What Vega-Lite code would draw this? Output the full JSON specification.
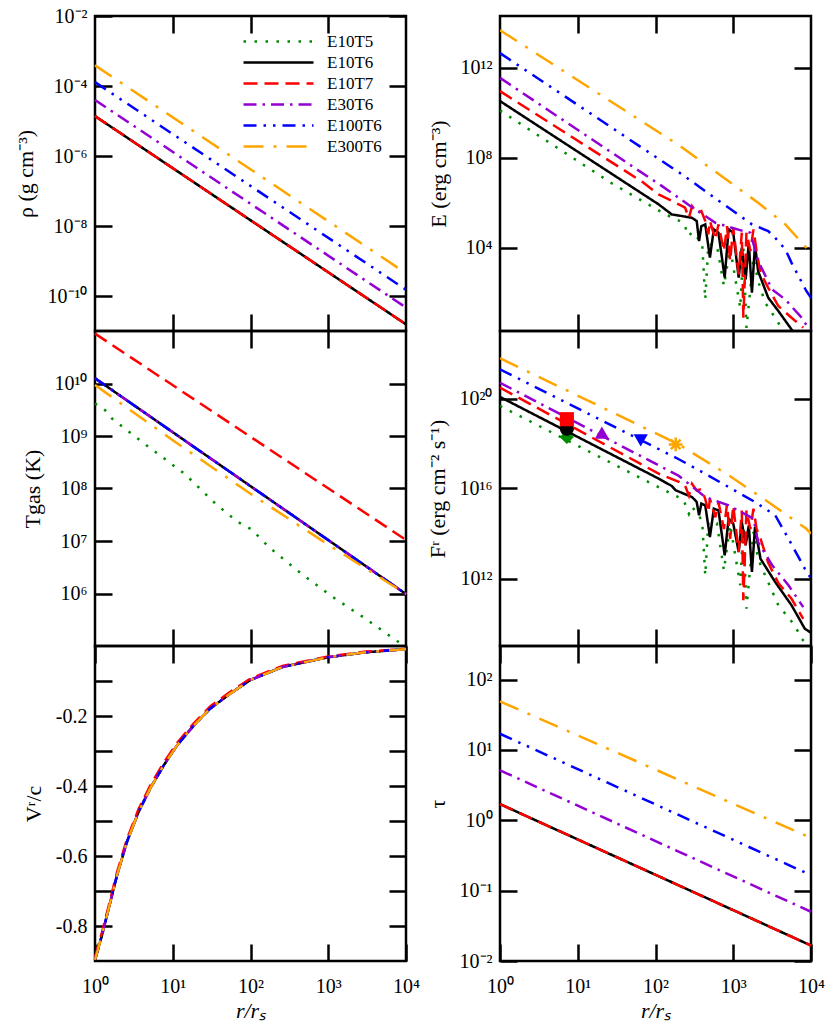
{
"$schema": "https://vega.github.io/schema/vega-lite/v6.json",
"padding": {"left": 12, "top": 4, "right": 5, "bottom": 5},
"bounds": "flush",
"columns": 2,
"spacing": {"row": 0, "column": 94},
"data": {"values": [
{"p":"rho","m":"E10T5","r":1,"v":1.38e-5},{"p":"rho","m":"E10T5","r":10000,"v":1.55e-11},
{"p":"rho","m":"E10T6","r":1,"v":1.38e-5},{"p":"rho","m":"E10T6","r":10000,"v":1.55e-11},
{"p":"rho","m":"E10T7","r":1,"v":1.38e-5},{"p":"rho","m":"E10T7","r":10000,"v":1.55e-11},
{"p":"rho","m":"E30T6","r":1,"v":3.98e-5},{"p":"rho","m":"E30T6","r":10000,"v":4.68e-11},
{"p":"rho","m":"E100T6","r":1,"v":1.288e-4},{"p":"rho","m":"E100T6","r":10000,"v":1.514e-10},
{"p":"rho","m":"E300T6","r":1,"v":3.89e-4},{"p":"rho","m":"E300T6","r":10000,"v":4.47e-10},

{"p":"E","m":"E10T5","r":1,"v":1.259e10},{"p":"E","m":"E10T5","r":27.54,"v":7.244e6},{"p":"E","m":"E10T5","r":134.9,"v":3.02e5},{"p":"E","m":"E10T5","r":229.1,"v":1.288e5},{"p":"E","m":"E10T5","r":269.2,"v":3.311e4},{"p":"E","m":"E10T5","r":295.1,"v":5.012e4},{"p":"E","m":"E10T5","r":398.1,"v":1.66e4},{"p":"E","m":"E10T5","r":436.5,"v":50.12},{"p":"E","m":"E10T5","r":478.6,"v":1.413e4},{"p":"E","m":"E10T5","r":616.6,"v":1.259e4},{"p":"E","m":"E10T5","r":758.6,"v":199.5},{"p":"E","m":"E10T5","r":912,"v":1e4},{"p":"E","m":"E10T5","r":1230,"v":21.38},{"p":"E","m":"E10T5","r":1349,"v":1e4},{"p":"E","m":"E10T5","r":1479,"v":2.754},{"p":"E","m":"E10T5","r":1820,"v":3631},{"p":"E","m":"E10T5","r":2089,"v":331.1},{"p":"E","m":"E10T5","r":2570,"v":36.31},{"p":"E","m":"E10T5","r":3467,"v":7.762},{"p":"E","m":"E10T5","r":4169,"v":2.754},{"p":"E","m":"E10T5","r":5623,"v":1},
{"p":"E","m":"E10T6","r":1,"v":3.311e10},{"p":"E","m":"E10T6","r":109.6,"v":8.511e5},{"p":"E","m":"E10T6","r":162.2,"v":3.02e5},{"p":"E","m":"E10T6","r":218.8,"v":2.57e5},{"p":"E","m":"E10T6","r":295.1,"v":2.138e5},{"p":"E","m":"E10T6","r":338.8,"v":1.549e5},{"p":"E","m":"E10T6","r":363.1,"v":1.995e4},{"p":"E","m":"E10T6","r":389,"v":9.12e4},{"p":"E","m":"E10T6","r":436.5,"v":1.096e5},{"p":"E","m":"E10T6","r":501.2,"v":3631},{"p":"E","m":"E10T6","r":562.3,"v":6.607e4},{"p":"E","m":"E10T6","r":645.7,"v":4.677e4},{"p":"E","m":"E10T6","r":776.2,"v":467.7},{"p":"E","m":"E10T6","r":871,"v":6.607e4},{"p":"E","m":"E10T6","r":1000,"v":4.677e4},{"p":"E","m":"E10T6","r":1175,"v":467.7},{"p":"E","m":"E10T6","r":1288,"v":1e4},{"p":"E","m":"E10T6","r":1445,"v":398.1},{"p":"E","m":"E10T6","r":1585,"v":1.66e4},{"p":"E","m":"E10T6","r":1738,"v":100},{"p":"E","m":"E10T6","r":1905,"v":1.413e4},{"p":"E","m":"E10T6","r":2089,"v":912},{"p":"E","m":"E10T6","r":2818,"v":60.26},{"p":"E","m":"E10T6","r":3802,"v":15.49},{"p":"E","m":"E10T6","r":5623,"v":2.344},{"p":"E","m":"E10T6","r":6918,"v":1},
{"p":"E","m":"E10T7","r":1,"v":9.12e10},{"p":"E","m":"E10T7","r":67.61,"v":8.511e6},{"p":"E","m":"E10T7","r":109.6,"v":2.344e6},{"p":"E","m":"E10T7","r":199.5,"v":8.511e5},{"p":"E","m":"E10T7","r":239.9,"v":6.026e5},{"p":"E","m":"E10T7","r":269.2,"v":2.138e5},{"p":"E","m":"E10T7","r":295.1,"v":7.079e5},{"p":"E","m":"E10T7","r":338.8,"v":3.631e5},{"p":"E","m":"E10T7","r":389,"v":4.266e5},{"p":"E","m":"E10T7","r":436.5,"v":1.549e5},{"p":"E","m":"E10T7","r":478.6,"v":3.981e4},{"p":"E","m":"E10T7","r":501.2,"v":1.549e5},{"p":"E","m":"E10T7","r":588.8,"v":2.344e4},{"p":"E","m":"E10T7","r":645.7,"v":1.096e5},{"p":"E","m":"E10T7","r":758.6,"v":7079},{"p":"E","m":"E10T7","r":831.8,"v":9.12e4},{"p":"E","m":"E10T7","r":912,"v":2570},{"p":"E","m":"E10T7","r":1000,"v":7.762e4},{"p":"E","m":"E10T7","r":1175,"v":660.7},{"p":"E","m":"E10T7","r":1288,"v":4.677e4},{"p":"E","m":"E10T7","r":1349,"v":7.762},{"p":"E","m":"E10T7","r":1479,"v":4.677e4},{"p":"E","m":"E10T7","r":1660,"v":7079},{"p":"E","m":"E10T7","r":1820,"v":6.607e4},{"p":"E","m":"E10T7","r":1995,"v":7079},{"p":"E","m":"E10T7","r":2239,"v":776.2},{"p":"E","m":"E10T7","r":2818,"v":166},{"p":"E","m":"E10T7","r":3802,"v":25.7},{"p":"E","m":"E10T7","r":5623,"v":7.762},{"p":"E","m":"E10T7","r":7943,"v":2.818},
{"p":"E","m":"E30T6","r":1,"v":3.548e11},{"p":"E","m":"E30T6","r":100,"v":8.511e6},{"p":"E","m":"E30T6","r":120.2,"v":5.623e6},{"p":"E","m":"E30T6","r":281.8,"v":7.079e5},{"p":"E","m":"E30T6","r":588.8,"v":1.288e5},{"p":"E","m":"E30T6","r":1349,"v":5.495e4},{"p":"E","m":"E30T6","r":1660,"v":4.677e4},{"p":"E","m":"E30T6","r":2089,"v":2570},{"p":"E","m":"E30T6","r":3162,"v":141.3},{"p":"E","m":"E30T6","r":4677,"v":50.12},{"p":"E","m":"E30T6","r":7586,"v":7.762},{"p":"E","m":"E30T6","r":8318,"v":4.677},{"p":"E","m":"E30T6","r":10000,"v":1.995},
{"p":"E","m":"E100T6","r":1,"v":4.467e12},{"p":"E","m":"E100T6","r":218.8,"v":1.82e7},{"p":"E","m":"E100T6","r":1738,"v":1.096e5},{"p":"E","m":"E100T6","r":2818,"v":5.495e4},{"p":"E","m":"E100T6","r":3467,"v":2.754e4},{"p":"E","m":"E100T6","r":4677,"v":8511},{"p":"E","m":"E100T6","r":5623,"v":2138},{"p":"E","m":"E100T6","r":8710,"v":120.2},{"p":"E","m":"E100T6","r":10000,"v":60},
{"p":"E","m":"E300T6","r":1,"v":4.677e13},{"p":"E","m":"E300T6","r":199.5,"v":3.631e8},{"p":"E","m":"E300T6","r":616.6,"v":2.138e7},{"p":"E","m":"E300T6","r":2089,"v":1e6},{"p":"E","m":"E300T6","r":4677,"v":1.096e5},{"p":"E","m":"E300T6","r":8710,"v":1e4},{"p":"E","m":"E300T6","r":10000,"v":5623},

{"p":"T","m":"E10T5","r":1,"v":4.169e9},{"p":"T","m":"E10T5","r":1.349,"v":3.09e9},{"p":"T","m":"E10T5","r":1.66,"v":2.138e9},{"p":"T","m":"E10T5","r":4.266,"v":7.244e8},{"p":"T","m":"E10T5","r":14.45,"v":1.862e8},{"p":"T","m":"E10T5","r":35.48,"v":5.129e7},{"p":"T","m":"E10T5","r":67.61,"v":2.344e7},{"p":"T","m":"E10T5","r":100,"v":1.698e7},{"p":"T","m":"E10T5","r":120.2,"v":1.318e7},{"p":"T","m":"E10T5","r":173.8,"v":7.586e6},{"p":"T","m":"E10T5","r":398.1,"v":2.754e6},{"p":"T","m":"E10T5","r":1072,"v":9.12e5},{"p":"T","m":"E10T5","r":3020,"v":3.311e5},{"p":"T","m":"E10T5","r":7586,"v":1.259e5},{"p":"T","m":"E10T5","r":9550,"v":1.0e5},
{"p":"T","m":"E10T6","r":1,"v":1.259e10},{"p":"T","m":"E10T6","r":10000,"v":9.772e5},
{"p":"T","m":"E10T7","r":1,"v":8.913e10},{"p":"T","m":"E10T7","r":10000,"v":1.047e7},
{"p":"T","m":"E30T6","r":1,"v":1.259e10},{"p":"T","m":"E30T6","r":10000,"v":9.772e5},
{"p":"T","m":"E100T6","r":1,"v":1.259e10},{"p":"T","m":"E100T6","r":10000,"v":9.772e5},
{"p":"T","m":"E300T6","r":1,"v":9.333e9},{"p":"T","m":"E300T6","r":10,"v":8.318e8},{"p":"T","m":"E300T6","r":100,"v":7.943e7},{"p":"T","m":"E300T6","r":1000,"v":8.511e6},{"p":"T","m":"E300T6","r":10000,"v":9.772e5},

{"p":"F","m":"E10T5","r":1,"v":4.677e19},{"p":"F","m":"E10T5","r":27.54,"v":1.318e17},{"p":"F","m":"E10T5","r":134.9,"v":7.943e15},{"p":"F","m":"E10T5","r":229.1,"v":3.162e15},{"p":"F","m":"E10T5","r":269.2,"v":7.413e14},{"p":"F","m":"E10T5","r":295.1,"v":1.585e15},{"p":"F","m":"E10T5","r":398.1,"v":3.715e14},{"p":"F","m":"E10T5","r":436.5,"v":1.38e12},{"p":"F","m":"E10T5","r":478.6,"v":3.162e14},{"p":"F","m":"E10T5","r":616.6,"v":2.818e14},{"p":"F","m":"E10T5","r":758.6,"v":2.291e12},{"p":"F","m":"E10T5","r":912,"v":2.512e14},{"p":"F","m":"E10T5","r":1230,"v":5.012e11},{"p":"F","m":"E10T5","r":1349,"v":2.239e14},{"p":"F","m":"E10T5","r":1479,"v":4.571e10},{"p":"F","m":"E10T5","r":1820,"v":1.175e14},{"p":"F","m":"E10T5","r":2089,"v":7.413e12},{"p":"F","m":"E10T5","r":2570,"v":1.38e12},{"p":"F","m":"E10T5","r":3802,"v":6.457e10},{"p":"F","m":"E10T5","r":6166,"v":8.318e9},{"p":"F","m":"E10T5","r":7586,"v":2.089e9},{"p":"F","m":"E10T5","r":10000,"v":7.943e8},
{"p":"F","m":"E10T6","r":1,"v":1.175e20},{"p":"F","m":"E10T6","r":109.6,"v":2.754e16},{"p":"F","m":"E10T6","r":162.2,"v":1.288e16},{"p":"F","m":"E10T6","r":182,"v":8.318e15},{"p":"F","m":"E10T6","r":295.1,"v":4.169e15},{"p":"F","m":"E10T6","r":338.8,"v":2.512e15},{"p":"F","m":"E10T6","r":363.1,"v":6.457e14},{"p":"F","m":"E10T6","r":389,"v":2.138e15},{"p":"F","m":"E10T6","r":436.5,"v":1.778e15},{"p":"F","m":"E10T6","r":501.2,"v":6.918e13},{"p":"F","m":"E10T6","r":562.3,"v":1.259e15},{"p":"F","m":"E10T6","r":645.7,"v":1.072e15},{"p":"F","m":"E10T6","r":776.2,"v":1.072e13},{"p":"F","m":"E10T6","r":871,"v":4.571e14},{"p":"F","m":"E10T6","r":1000,"v":2.754e14},{"p":"F","m":"E10T6","r":1175,"v":1.514e13},{"p":"F","m":"E10T6","r":1288,"v":3.236e14},{"p":"F","m":"E10T6","r":1445,"v":3.02e13},{"p":"F","m":"E10T6","r":1585,"v":2.291e14},{"p":"F","m":"E10T6","r":1738,"v":1.95e12},{"p":"F","m":"E10T6","r":1905,"v":1.95e14},{"p":"F","m":"E10T6","r":2239,"v":7.586e12},{"p":"F","m":"E10T6","r":3467,"v":6.918e11},{"p":"F","m":"E10T6","r":5623,"v":6.457e10},{"p":"F","m":"E10T6","r":8318,"v":5.888e9},{"p":"F","m":"E10T6","r":10000,"v":3.89e9},
{"p":"F","m":"E10T7","r":1,"v":3.02e20},{"p":"F","m":"E10T7","r":109.6,"v":4.571e16},{"p":"F","m":"E10T7","r":199.5,"v":1.995e16},{"p":"F","m":"E10T7","r":239.9,"v":1.349e16},{"p":"F","m":"E10T7","r":269.2,"v":4.786e15},{"p":"F","m":"E10T7","r":295.1,"v":1.585e16},{"p":"F","m":"E10T7","r":338.8,"v":8.128e15},{"p":"F","m":"E10T7","r":389,"v":9.55e15},{"p":"F","m":"E10T7","r":436.5,"v":3.467e15},{"p":"F","m":"E10T7","r":478.6,"v":8.913e14},{"p":"F","m":"E10T7","r":501.2,"v":3.467e15},{"p":"F","m":"E10T7","r":588.8,"v":5.248e14},{"p":"F","m":"E10T7","r":645.7,"v":2.455e15},{"p":"F","m":"E10T7","r":758.6,"v":1.585e14},{"p":"F","m":"E10T7","r":831.8,"v":2.042e15},{"p":"F","m":"E10T7","r":912,"v":5.754e13},{"p":"F","m":"E10T7","r":1000,"v":1.738e15},{"p":"F","m":"E10T7","r":1175,"v":1.479e13},{"p":"F","m":"E10T7","r":1288,"v":1.047e15},{"p":"F","m":"E10T7","r":1349,"v":1.072e11},{"p":"F","m":"E10T7","r":1479,"v":1.047e15},{"p":"F","m":"E10T7","r":1660,"v":1.585e14},{"p":"F","m":"E10T7","r":1820,"v":1.259e15},{"p":"F","m":"E10T7","r":1995,"v":1.585e14},{"p":"F","m":"E10T7","r":2239,"v":5.888e13},{"p":"F","m":"E10T7","r":2818,"v":5.012e12},{"p":"F","m":"E10T7","r":3802,"v":6.31e11},{"p":"F","m":"E10T7","r":5623,"v":1.259e11},{"p":"F","m":"E10T7","r":7943,"v":1.622e10},
{"p":"F","m":"E30T6","r":1,"v":5.012e20},{"p":"F","m":"E30T6","r":199.5,"v":3.631e16},{"p":"F","m":"E30T6","r":436.5,"v":4.169e15},{"p":"F","m":"E30T6","r":871,"v":1.778e15},{"p":"F","m":"E30T6","r":1820,"v":4.571e14},{"p":"F","m":"E30T6","r":2089,"v":4.169e13},{"p":"F","m":"E30T6","r":3162,"v":3.89e12},{"p":"F","m":"E30T6","r":5129,"v":5.012e11},{"p":"F","m":"E30T6","r":7943,"v":5.37e10},
{"p":"F","m":"E100T6","r":1,"v":1.995e21},{"p":"F","m":"E100T6","r":199.5,"v":1.995e17},{"p":"F","m":"E100T6","r":398.1,"v":5.37e16},{"p":"F","m":"E100T6","r":1905,"v":2.512e15},{"p":"F","m":"E100T6","r":3467,"v":6.457e14},{"p":"F","m":"E100T6","r":5129,"v":5.888e13},{"p":"F","m":"E100T6","r":8318,"v":2.754e12},{"p":"F","m":"E100T6","r":10000,"v":1e12},
{"p":"F","m":"E300T6","r":1,"v":6.166e21},{"p":"F","m":"E300T6","r":199.5,"v":9.12e17},{"p":"F","m":"E300T6","r":871,"v":3.89e16},{"p":"F","m":"E300T6","r":2818,"v":2.512e15},{"p":"F","m":"E300T6","r":8710,"v":1.622e14},{"p":"F","m":"E300T6","r":10000,"v":1e14},

{"p":"M","m":"E10T5","r":7.244,"v":1.95e18},{"p":"M","m":"E10T6","r":7.244,"v":4.571e18},{"p":"M","m":"E10T7","r":7.244,"v":1.202e19},{"p":"M","m":"E30T6","r":20.42,"v":3.02e18},{"p":"M","m":"E100T6","r":64.57,"v":1.38e18},{"p":"M","m":"E300T6","r":182,"v":9.12e17},

{"p":"V","m":"E10T5","r":1,"v":-0.897},{"p":"V","m":"E10T5","r":1.23,"v":-0.826},{"p":"V","m":"E10T5","r":1.5,"v":-0.75},{"p":"V","m":"E10T5","r":1.919,"v":-0.655},{"p":"V","m":"E10T5","r":2.57,"v":-0.56},{"p":"V","m":"E10T5","r":3.631,"v":-0.474},{"p":"V","m":"E10T5","r":5.129,"v":-0.407},{"p":"V","m":"E10T5","r":7.656,"v":-0.341},{"p":"V","m":"E10T5","r":11.35,"v":-0.284},{"p":"V","m":"E10T5","r":18.62,"v":-0.227},{"p":"V","m":"E10T5","r":30.2,"v":-0.179},{"p":"V","m":"E10T5","r":54.95,"v":-0.136},{"p":"V","m":"E10T5","r":100,"v":-0.097},{"p":"V","m":"E10T5","r":257,"v":-0.06},{"p":"V","m":"E10T5","r":1000,"v":-0.032},{"p":"V","m":"E10T5","r":3020,"v":-0.018},{"p":"V","m":"E10T5","r":10000,"v":-0.009},
{"p":"V","m":"E10T6","r":1,"v":-0.897},{"p":"V","m":"E10T6","r":1.23,"v":-0.826},{"p":"V","m":"E10T6","r":1.5,"v":-0.75},{"p":"V","m":"E10T6","r":1.919,"v":-0.655},{"p":"V","m":"E10T6","r":2.57,"v":-0.56},{"p":"V","m":"E10T6","r":3.631,"v":-0.474},{"p":"V","m":"E10T6","r":5.129,"v":-0.407},{"p":"V","m":"E10T6","r":7.656,"v":-0.341},{"p":"V","m":"E10T6","r":11.35,"v":-0.284},{"p":"V","m":"E10T6","r":18.62,"v":-0.227},{"p":"V","m":"E10T6","r":30.2,"v":-0.179},{"p":"V","m":"E10T6","r":54.95,"v":-0.136},{"p":"V","m":"E10T6","r":100,"v":-0.097},{"p":"V","m":"E10T6","r":257,"v":-0.06},{"p":"V","m":"E10T6","r":1000,"v":-0.032},{"p":"V","m":"E10T6","r":3020,"v":-0.018},{"p":"V","m":"E10T6","r":10000,"v":-0.009},
{"p":"V","m":"E10T7","r":1,"v":-0.889},{"p":"V","m":"E10T7","r":1.23,"v":-0.818},{"p":"V","m":"E10T7","r":1.5,"v":-0.742},{"p":"V","m":"E10T7","r":1.919,"v":-0.647},{"p":"V","m":"E10T7","r":2.57,"v":-0.552},{"p":"V","m":"E10T7","r":3.631,"v":-0.466},{"p":"V","m":"E10T7","r":5.129,"v":-0.399},{"p":"V","m":"E10T7","r":7.656,"v":-0.333},{"p":"V","m":"E10T7","r":11.35,"v":-0.277},{"p":"V","m":"E10T7","r":18.62,"v":-0.221},{"p":"V","m":"E10T7","r":30.2,"v":-0.173},{"p":"V","m":"E10T7","r":54.95,"v":-0.131},{"p":"V","m":"E10T7","r":100,"v":-0.093},{"p":"V","m":"E10T7","r":257,"v":-0.057},{"p":"V","m":"E10T7","r":1000,"v":-0.03},{"p":"V","m":"E10T7","r":3020,"v":-0.016},{"p":"V","m":"E10T7","r":10000,"v":-0.008},
{"p":"V","m":"E30T6","r":1,"v":-0.897},{"p":"V","m":"E30T6","r":1.23,"v":-0.826},{"p":"V","m":"E30T6","r":1.5,"v":-0.75},{"p":"V","m":"E30T6","r":1.919,"v":-0.655},{"p":"V","m":"E30T6","r":2.57,"v":-0.56},{"p":"V","m":"E30T6","r":3.631,"v":-0.474},{"p":"V","m":"E30T6","r":5.129,"v":-0.407},{"p":"V","m":"E30T6","r":7.656,"v":-0.341},{"p":"V","m":"E30T6","r":11.35,"v":-0.284},{"p":"V","m":"E30T6","r":18.62,"v":-0.227},{"p":"V","m":"E30T6","r":30.2,"v":-0.179},{"p":"V","m":"E30T6","r":54.95,"v":-0.136},{"p":"V","m":"E30T6","r":100,"v":-0.097},{"p":"V","m":"E30T6","r":257,"v":-0.06},{"p":"V","m":"E30T6","r":1000,"v":-0.032},{"p":"V","m":"E30T6","r":3020,"v":-0.018},{"p":"V","m":"E30T6","r":10000,"v":-0.009},
{"p":"V","m":"E100T6","r":1,"v":-0.897},{"p":"V","m":"E100T6","r":1.23,"v":-0.826},{"p":"V","m":"E100T6","r":1.5,"v":-0.75},{"p":"V","m":"E100T6","r":1.919,"v":-0.655},{"p":"V","m":"E100T6","r":2.57,"v":-0.56},{"p":"V","m":"E100T6","r":3.631,"v":-0.474},{"p":"V","m":"E100T6","r":5.129,"v":-0.407},{"p":"V","m":"E100T6","r":7.656,"v":-0.341},{"p":"V","m":"E100T6","r":11.35,"v":-0.284},{"p":"V","m":"E100T6","r":18.62,"v":-0.227},{"p":"V","m":"E100T6","r":30.2,"v":-0.179},{"p":"V","m":"E100T6","r":54.95,"v":-0.136},{"p":"V","m":"E100T6","r":100,"v":-0.097},{"p":"V","m":"E100T6","r":257,"v":-0.06},{"p":"V","m":"E100T6","r":1000,"v":-0.032},{"p":"V","m":"E100T6","r":3020,"v":-0.018},{"p":"V","m":"E100T6","r":10000,"v":-0.009},
{"p":"V","m":"E300T6","r":1,"v":-0.897},{"p":"V","m":"E300T6","r":1.23,"v":-0.826},{"p":"V","m":"E300T6","r":1.5,"v":-0.75},{"p":"V","m":"E300T6","r":1.919,"v":-0.655},{"p":"V","m":"E300T6","r":2.57,"v":-0.56},{"p":"V","m":"E300T6","r":3.631,"v":-0.474},{"p":"V","m":"E300T6","r":5.129,"v":-0.407},{"p":"V","m":"E300T6","r":7.656,"v":-0.341},{"p":"V","m":"E300T6","r":11.35,"v":-0.284},{"p":"V","m":"E300T6","r":18.62,"v":-0.227},{"p":"V","m":"E300T6","r":30.2,"v":-0.179},{"p":"V","m":"E300T6","r":54.95,"v":-0.136},{"p":"V","m":"E300T6","r":100,"v":-0.097},{"p":"V","m":"E300T6","r":257,"v":-0.06},{"p":"V","m":"E300T6","r":1000,"v":-0.032},{"p":"V","m":"E300T6","r":3020,"v":-0.018},{"p":"V","m":"E300T6","r":10000,"v":-0.009},

{"p":"tau","m":"E10T5","r":1,"v":1.698},{"p":"tau","m":"E10T5","r":10000,"v":0.0166},
{"p":"tau","m":"E10T6","r":1,"v":1.698},{"p":"tau","m":"E10T6","r":10000,"v":0.0166},
{"p":"tau","m":"E10T7","r":1,"v":1.698},{"p":"tau","m":"E10T7","r":10000,"v":0.0166},
{"p":"tau","m":"E30T6","r":1,"v":5.129},{"p":"tau","m":"E30T6","r":10000,"v":0.0501},
{"p":"tau","m":"E100T6","r":1,"v":16.98},{"p":"tau","m":"E100T6","r":10000,"v":0.166},
{"p":"tau","m":"E300T6","r":1,"v":48.98},{"p":"tau","m":"E300T6","r":10000,"v":0.5623}
]},
"concat": [
{
 "width": 311, "height": 315,
 "transform": [{"filter": "datum.p=='rho'"}],
 "mark": {"type": "line", "strokeWidth": 2.5},
 "encoding": {
  "x": {"field": "r", "type": "quantitative", "scale": {"type": "log", "domain": [1, 10000], "nice": false}, "axis": {"orient": "bottom", "values": [10, 100, 1000], "labels": false, "title": null}},
  "y": {"field": "v", "type": "quantitative", "scale": {"type": "log", "domain": [1e-11, 0.01], "nice": false}, "axis": {"orient": "left", "values": [1e-10, 1e-8, 1e-6, 1e-4, 1e-2], "title": "ρ (g cm⁻³)", "labelExpr": "'10' + (round(log(datum.value)/LN10) < 0 ? '⁻' : '') + (abs(round(log(datum.value)/LN10)) >= 10 ? substring('⁰¹²³⁴⁵⁶⁷⁸⁹', floor(abs(round(log(datum.value)/LN10))/10), floor(abs(round(log(datum.value)/LN10))/10)+1) : '') + substring('⁰¹²³⁴⁵⁶⁷⁸⁹', abs(round(log(datum.value)/LN10))%10, abs(round(log(datum.value)/LN10))%10+1)"}},
  "color": {"field": "m", "type": "nominal", "scale": {"domain": ["E10T5","E10T6","E10T7","E30T6","E100T6","E300T6"], "range": ["#008B00","#000000","#FF0000","#9400D3","#0000FF","#FFA500"]},
    "legend": {"orient": "none", "legendX": 172, "legendY": 14, "title": null, "symbolType": "M-3.5,0H3.5", "symbolSize": 400, "symbolStrokeWidth": 2.5, "labelFont": "Liberation Serif", "labelFontSize": 17, "labelColor": "black", "labelOffset": 37, "rowPadding": 1, "padding": 0, "labelLimit": 200}},
  "strokeDash": {"field": "m", "type": "nominal", "scale": {"domain": ["E10T5","E10T6","E10T7","E30T6","E100T6","E300T6"], "range": [[2.5,8.5],[1,0],[14,7],[13,6,2.5,6],[13,7,2.5,7,2.5,7],[20,10,3,10]]},
    "legend": {"orient": "none", "legendX": 172, "legendY": 14, "title": null, "symbolType": "M-3.5,0H3.5", "symbolSize": 400, "symbolStrokeWidth": 2.5, "labelFont": "Liberation Serif", "labelFontSize": 17, "labelColor": "black", "labelOffset": 37, "rowPadding": 1, "padding": 0, "labelLimit": 200}}
 }
},
{
 "width": 311, "height": 315,
 "transform": [{"filter": "datum.p=='E'"}],
 "mark": {"type": "line", "strokeWidth": 2.5, "clip": true},
 "encoding": {
  "x": {"field": "r", "type": "quantitative", "scale": {"type": "log", "domain": [1, 10000], "nice": false}, "axis": {"orient": "bottom", "values": [10, 100, 1000], "labels": false, "title": null}},
  "y": {"field": "v", "type": "quantitative", "scale": {"type": "log", "domain": [2, 2e14], "nice": false}, "axis": {"orient": "left", "values": [1e4, 1e8, 1e12], "title": "E (erg cm⁻³)", "labelExpr": "'10' + (round(log(datum.value)/LN10) < 0 ? '⁻' : '') + (abs(round(log(datum.value)/LN10)) >= 10 ? substring('⁰¹²³⁴⁵⁶⁷⁸⁹', floor(abs(round(log(datum.value)/LN10))/10), floor(abs(round(log(datum.value)/LN10))/10)+1) : '') + substring('⁰¹²³⁴⁵⁶⁷⁸⁹', abs(round(log(datum.value)/LN10))%10, abs(round(log(datum.value)/LN10))%10+1)"}},
  "color": {"field": "m", "type": "nominal", "legend": null},
  "strokeDash": {"field": "m", "type": "nominal", "legend": null}
 }
},
{
 "width": 311, "height": 315,
 "transform": [{"filter": "datum.p=='T'"}],
 "mark": {"type": "line", "strokeWidth": 2.5},
 "encoding": {
  "x": {"field": "r", "type": "quantitative", "scale": {"type": "log", "domain": [1, 10000], "nice": false}, "axis": {"orient": "bottom", "values": [10, 100, 1000], "labels": false, "title": null}},
  "y": {"field": "v", "type": "quantitative", "scale": {"type": "log", "domain": [1e5, 1e11], "nice": false}, "axis": {"orient": "left", "values": [1e6, 1e7, 1e8, 1e9, 1e10], "title": "Tgas (K)", "labelExpr": "'10' + (round(log(datum.value)/LN10) < 0 ? '⁻' : '') + (abs(round(log(datum.value)/LN10)) >= 10 ? substring('⁰¹²³⁴⁵⁶⁷⁸⁹', floor(abs(round(log(datum.value)/LN10))/10), floor(abs(round(log(datum.value)/LN10))/10)+1) : '') + substring('⁰¹²³⁴⁵⁶⁷⁸⁹', abs(round(log(datum.value)/LN10))%10, abs(round(log(datum.value)/LN10))%10+1)"}},
  "color": {"field": "m", "type": "nominal", "legend": null},
  "strokeDash": {"field": "m", "type": "nominal", "legend": null}
 }
},
{
 "width": 311, "height": 315,
 "transform": [{"filter": "datum.p=='F' || datum.p=='M'"}],
 "layer": [
  {"mark": {"type": "line", "strokeWidth": 2.5, "clip": true},
   "transform": [{"filter": "datum.p=='F'"}],
   "encoding": {
    "x": {"field": "r", "type": "quantitative", "scale": {"type": "log", "domain": [1, 10000], "nice": false}, "axis": {"orient": "bottom", "values": [10, 100, 1000], "labels": false, "title": null}},
    "y": {"field": "v", "type": "quantitative", "scale": {"type": "log", "domain": [1e9, 1e23], "nice": false}, "axis": {"orient": "left", "values": [1e12, 1e16, 1e20], "title": "Fʳ (erg cm⁻² s⁻¹)", "labelExpr": "'10' + (round(log(datum.value)/LN10) < 0 ? '⁻' : '') + (abs(round(log(datum.value)/LN10)) >= 10 ? substring('⁰¹²³⁴⁵⁶⁷⁸⁹', floor(abs(round(log(datum.value)/LN10))/10), floor(abs(round(log(datum.value)/LN10))/10)+1) : '') + substring('⁰¹²³⁴⁵⁶⁷⁸⁹', abs(round(log(datum.value)/LN10))%10, abs(round(log(datum.value)/LN10))%10+1)"}},
    "color": {"field": "m", "type": "nominal", "legend": null},
    "strokeDash": {"field": "m", "type": "nominal", "legend": null}
   }},
  {"mark": {"type": "point", "filled": true, "size": 200, "opacity": 1},
   "transform": [{"filter": "datum.p=='M' && datum.m!='E300T6'"}],
   "encoding": {
    "x": {"field": "r", "type": "quantitative"},
    "y": {"field": "v", "type": "quantitative"},
    "color": {"field": "m", "type": "nominal", "legend": null},
    "shape": {"field": "m", "type": "nominal", "legend": null, "scale": {"domain": ["E10T5","E10T6","E10T7","E30T6","E100T6"], "range": ["diamond","circle","square","triangle-up","triangle-down"]}}
   }},
  {"mark": {"type": "point", "filled": false, "size": 190, "opacity": 1, "strokeWidth": 2.5, "shape": "M0,-1V1M-1,0H1M-0.7,-0.7L0.7,0.7M-0.7,0.7L0.7,-0.7"},
   "transform": [{"filter": "datum.p=='M' && datum.m=='E300T6'"}],
   "encoding": {
    "x": {"field": "r", "type": "quantitative"},
    "y": {"field": "v", "type": "quantitative"},
    "color": {"field": "m", "type": "nominal", "legend": null}
   }}
 ]
},
{
 "width": 311, "height": 315,
 "transform": [{"filter": "datum.p=='V'"}],
 "mark": {"type": "line", "strokeWidth": 2.5},
 "encoding": {
  "x": {"field": "r", "type": "quantitative", "scale": {"type": "log", "domain": [1, 10000], "nice": false}, "axis": {"orient": "bottom", "values": [1, 10, 100, 1000, 10000], "title": "r/rₛ", "titleFontStyle": "italic", "labelExpr": "'10' + substring('⁰¹²³⁴⁵⁶⁷⁸⁹', round(log(datum.value)/LN10), round(log(datum.value)/LN10)+1)"}},
  "y": {"field": "v", "type": "quantitative", "scale": {"type": "linear", "domain": [-0.9, 0], "nice": false, "zero": false}, "axis": {"orient": "left", "values": [-0.8, -0.7, -0.6, -0.5, -0.4, -0.3, -0.2, -0.1], "title": "Vʳ/c", "labelExpr": "datum.value == -0.2 ? '-0.2' : datum.value == -0.4 ? '-0.4' : datum.value == -0.6 ? '-0.6' : datum.value == -0.8 ? '-0.8' : ''"}},
  "color": {"field": "m", "type": "nominal", "legend": null},
  "strokeDash": {"field": "m", "type": "nominal", "legend": null}
 }
},
{
 "width": 311, "height": 315,
 "transform": [{"filter": "datum.p=='tau'"}],
 "mark": {"type": "line", "strokeWidth": 2.5},
 "encoding": {
  "x": {"field": "r", "type": "quantitative", "scale": {"type": "log", "domain": [1, 10000], "nice": false}, "axis": {"orient": "bottom", "values": [1, 10, 100, 1000, 10000], "title": "r/rₛ", "titleFontStyle": "italic", "labelExpr": "'10' + substring('⁰¹²³⁴⁵⁶⁷⁸⁹', round(log(datum.value)/LN10), round(log(datum.value)/LN10)+1)"}},
  "y": {"field": "v", "type": "quantitative", "scale": {"type": "log", "domain": [0.01, 300], "nice": false}, "axis": {"orient": "left", "values": [0.01, 0.1, 1, 10, 100], "title": "τ", "labelExpr": "'10' + (round(log(datum.value)/LN10) < 0 ? '⁻' : '') + substring('⁰¹²³⁴⁵⁶⁷⁸⁹', abs(round(log(datum.value)/LN10)), abs(round(log(datum.value)/LN10))+1)"}},
  "color": {"field": "m", "type": "nominal", "legend": null},
  "strokeDash": {"field": "m", "type": "nominal", "legend": null}
 }
}
],
"config": {
 "font": "Liberation Serif",
 "view": {"stroke": "black", "strokeWidth": 2.5},
 "axis": {"domain": false, "ticks": false, "tickSize": 0, "grid": true, "gridColor": "black", "gridOpacity": 1, "gridWidth": 2.5, "gridCap": "butt", "labelFont": "Liberation Serif", "labelFontSize": 20, "labelColor": "black", "titleFont": "Liberation Serif", "titleFontSize": 22, "titleFontWeight": "normal", "titleColor": "black", "labelOverlap": false, "labelFlush": false, "labelBound": false, "labelPadding": 8, "titlePadding": 10},
 "axisX": {"gridDash": [17, 281, 17, 100]},
 "axisY": {"gridDash": [17, 277, 17, 100]},
 "axisBottom": {"labelPadding": 15, "titlePadding": 4},
 "legend": {"labelFont": "Liberation Serif"}
}
}
